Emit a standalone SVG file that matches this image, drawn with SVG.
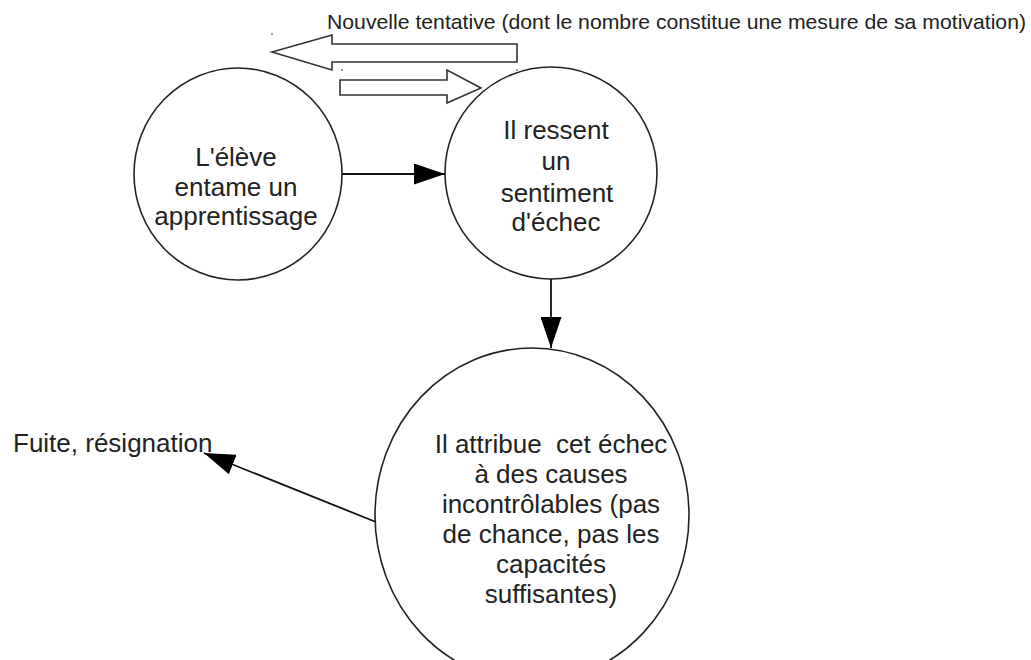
<svg xmlns="http://www.w3.org/2000/svg" width="1031" height="660" viewBox="0 0 1031 660">
  <defs>
    <marker id="arrow" viewBox="0 0 31 21" refX="31" refY="10.5" markerWidth="31" markerHeight="21" markerUnits="userSpaceOnUse" orient="auto">
      <path d="M0,0 L31,10.5 L0,21 Z" fill="#000"/>
    </marker>
    <style>
      .node circle, .node ellipse { fill: #fff; stroke: #222; stroke-width: 1.6; }
      .lbl { font-family: "Liberation Sans", Arial, sans-serif; font-size: 26px; fill: #222; text-anchor: middle; }
      .free { font-family: "Liberation Sans", Arial, sans-serif; fill: #222; }
      .conn { stroke: #111; stroke-width: 1.8; fill: none; }
      .block { fill: #fff; stroke: #333; stroke-width: 1.6; }
      .dot { fill: #999; }
    </style>
  </defs>
  <rect width="1031" height="660" fill="#fff"/>

  <g id="retry-label">
    <text class="free" x="327" y="29" font-size="21" textLength="699" lengthAdjust="spacingAndGlyphs">Nouvelle tentative (dont le nombre constitue une mesure de sa motivation)</text>
  </g>

  <g id="retry-arrows">
    <polygon class="block" points="272,52 332,35 332,44 517,44 517,62 332,62 332,70"/>
    <polygon class="block" points="340,80 447,80 447,70 481,88 447,103 447,95 340,95"/>
    <rect class="dot" x="271" y="33" width="2" height="2"/>
    <rect class="dot" x="341" y="69" width="2" height="2"/>
    <rect class="dot" x="516" y="69" width="2" height="2"/>
    <rect class="dot" x="479" y="104" width="2" height="2"/>
  </g>

  <g id="node-eleve" class="node">
    <ellipse cx="238" cy="174" rx="104" ry="106"/>
    <text class="lbl" x="236" y="166">L'élève</text>
    <text class="lbl" x="236" y="196">entame un</text>
    <text class="lbl" x="236" y="225">apprentissage</text>
  </g>

  <g id="node-echec" class="node">
    <circle cx="551" cy="173" r="106"/>
    <text class="lbl" x="556" y="139">Il ressent</text>
    <text class="lbl" x="556" y="170">un</text>
    <text class="lbl" x="557" y="202">sentiment</text>
    <text class="lbl" x="556" y="231">d'échec</text>
  </g>

  <g id="node-attribue" class="node">
    <ellipse cx="532" cy="515" rx="157" ry="167"/>
    <text class="lbl" x="551" y="453" style="white-space:pre">Il attribue  cet échec</text>
    <text class="lbl" x="551" y="483">à des causes</text>
    <text class="lbl" x="551" y="513">incontrôlables (pas</text>
    <text class="lbl" x="551" y="543">de chance, pas les</text>
    <text class="lbl" x="551" y="573">capacités</text>
    <text class="lbl" x="551" y="603">suffisantes)</text>
  </g>

  <g id="node-fuite">
    <text class="free" x="13" y="452" font-size="26">Fuite, résignation</text>
  </g>

  <g id="connectors">
    <line class="conn" x1="342" y1="174" x2="445" y2="174" marker-end="url(#arrow)"/>
    <line class="conn" x1="551" y1="279" x2="551" y2="348" marker-end="url(#arrow)"/>
    <line class="conn" x1="376" y1="522" x2="204" y2="453" marker-end="url(#arrow)"/>
  </g>
</svg>
